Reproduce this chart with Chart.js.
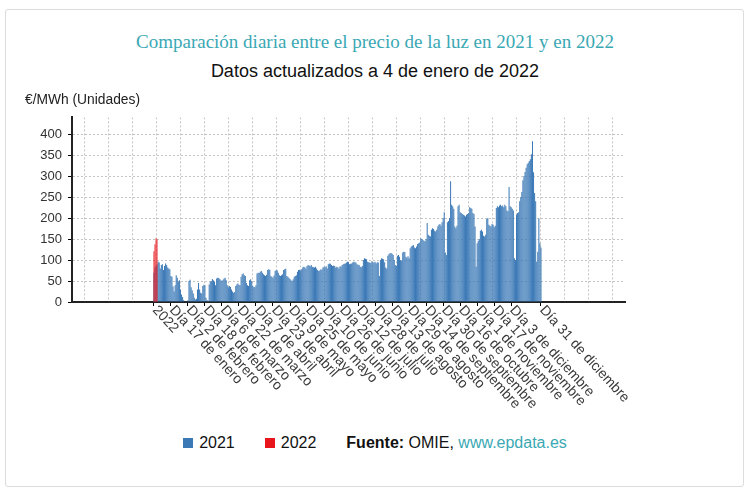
<!DOCTYPE html>
<html lang="es">
<head>
<meta charset="utf-8">
<title>Precio de la luz 2021 y 2022</title>
<script src="https://cdn.jsdelivr.net/npm/chart.js@4.4.0/dist/chart.umd.min.js"></script>
<style>
  body { margin: 0; background: #fff; font-family: "Liberation Sans", Arial, sans-serif; }
  .tarjeta { position: absolute; left: 5px; top: 9px; width: 737px; height: 476px; border: 1px solid #dcdcdc; border-radius: 3px; }
  .titulo { position: absolute; left: 0; top: 30px; width: 750px; line-height: 24px; text-align: center;
    font-family: "Liberation Serif", "Times New Roman", serif; font-size: 19px; color: #3aa8b4; }
  .subtitulo { position: absolute; left: 0; top: 61px; width: 750px; line-height: 20px; text-align: center;
    font-size: 18px; color: #111; }
  #grafico { position: absolute; left: 0; top: 88px; }
  .leyenda { position: absolute; left: 0; top: 433px; width: 750px; line-height: 20px; text-align: center;
    font-size: 16px; color: #111; }
  .leyenda .cuadro { display: inline-block; width: 10px; height: 10px; margin-right: 6px; }
  .leyenda .hueco { display: inline-block; width: 30px; }
  .leyenda a { color: #3aa8b4; text-decoration: none; }
</style>
</head>
<body>
<div class="tarjeta"></div>
<div class="titulo">Comparación diaria entre el precio de la luz en 2021 y en 2022</div>
<div class="subtitulo">Datos actualizados a 4 de enero de 2022</div>
<canvas id="grafico" width="750" height="330"></canvas>
<div class="leyenda" id="leyenda"></div>

<script>
// precio medio diario (€/MWh), dia 0 = 1 de enero
const ene2021 = [70, 82, 86, 90, 96, 94, 80, 88, 90, 76, 86, 92, 88, 82, 80, 78, 62, 60, 37, 25, 40, 64, 58, 48, 52, 30, 18, 12, 5, 2, 1];
const feb2021 = [2, 4, 50, 53, 35, 28, 20, 10, 6, 8, 30, 45, 30, 22, 20, 38, 41, 40, 10, 5, 3, 42, 48, 50, 55, 52, 48, 40];
const mar2021 = [56, 58, 57, 55, 52, 50, 53, 56, 58, 52, 40, 35, 38, 36, 30, 25, 22, 24, 38, 42, 44, 41, 40, 60, 66, 68, 64, 62, 45, 40, 38];
const abr2021 = [52, 54, 50, 38, 36, 35, 40, 68, 70, 69, 72, 74, 70, 66, 64, 62, 65, 76, 78, 77, 62, 60, 58, 63, 74, 76, 75, 70, 64, 62];
const may2021 = [64, 66, 76, 78, 79, 62, 60, 58, 55, 52, 50, 54, 60, 62, 64, 72, 76, 77, 75, 78, 82, 84, 83, 80, 86, 88, 87, 85, 88, 84, 83];
const jun2021 = [82, 84, 80, 76, 74, 75, 78, 77, 82, 84, 83, 85, 80, 90, 92, 91, 88, 86, 87, 86, 82, 84, 83, 80, 85, 84, 88, 90, 91, 92];
const jul2021 = [94, 96, 95, 90, 91, 92, 94, 96, 95, 94, 90, 89, 88, 84, 83, 86, 100, 104, 103, 102, 96, 95, 94, 93, 97, 95, 94, 96, 92, 95, 94];
const ago2021 = [62, 100, 104, 103, 102, 95, 82, 80, 110, 114, 116, 117, 115, 112, 100, 88, 86, 110, 112, 108, 100, 98, 118, 120, 119, 108, 106, 109, 104, 128, 132];
const sep2021 = [134, 136, 130, 128, 132, 138, 140, 142, 152, 150, 148, 146, 145, 150, 188, 160, 158, 156, 172, 176, 174, 170, 168, 172, 180, 184, 186, 182, 190, 200];
const oct2021 = [214, 118, 112, 190, 193, 200, 288, 232, 228, 222, 180, 176, 182, 228, 232, 214, 212, 210, 208, 206, 204, 208, 210, 212, 226, 224, 222, 212, 210, 180, 84];
const nov2021 = [140, 146, 150, 170, 172, 168, 158, 156, 160, 198, 200, 184, 182, 180, 186, 184, 178, 182, 224, 228, 226, 230, 232, 228, 230, 226, 232, 228, 218, 216];
const dic2021 = [274, 228, 226, 222, 218, 104, 100, 208, 212, 214, 240, 250, 262, 290, 300, 310, 320, 328, 332, 336, 340, 352, 383, 309, 260, 240, 96, 120, 199, 140, 130];
const precio2022 = [120, 137, 151, 149];

const precio2021 = [].concat(ene2021, feb2021, mar2021, abr2021, may2021, jun2021,
  jul2021, ago2021, sep2021, oct2021, nov2021, dic2021);

// marcas del eje horizontal (dia del año) y sus textos
const diasEtiqueta = [0, 16, 32, 48, 64, 80, 96, 112, 128, 144, 160, 176, 192, 208, 224, 240, 256, 272, 288, 304, 320, 336, 364];
const etiquetasX = ['2022', 'Día 17 de enero', 'Día 2 de febrero', 'Día 18 de febrero', 'Día 6 de marzo',
  'Día 22 de marzo', 'Día 7 de abril', 'Día 23 de abril', 'Día 9 de mayo', 'Día 25 de mayo', 'Día 10 de junio',
  'Día 26 de junio', 'Día 12 de julio', 'Día 28 de julio', 'Día 13 de agosto', 'Día 29 de agosto',
  'Día 14 de septiembre', 'Día 30 de septiembre', 'Día 16 de octubre', 'Día 1 de noviembre',
  'Día 17 de noviembre', 'Día 3 de diciembre', 'Día 31 de diciembre'];

const series = ['2021', '2022'];
const colores = ['#3a78b6', '#e8161c'];

// leyenda en html, junto a la fuente
const leyenda = document.getElementById('leyenda');
leyenda.innerHTML = series.map((s, i) =>
  `<span class="cuadro" style="background:${colores[i]}"></span>${s}<span class="hueco"></span>`).join('') +
  '<b>Fuente:</b> OMIE, <a>www.epdata.es</a>';

// textos del eje x inclinados hacia abajo a la derecha
const etiquetasInclinadas = {
  id: 'etiquetasInclinadas',
  afterDraw(chart) {
    const escala = chart.scales.x;
    const ctx = chart.ctx;
    ctx.save();
    ctx.font = '14px "Liberation Sans", Arial, sans-serif';
    ctx.fillStyle = '#3a3a3a';
    ctx.textAlign = 'left';
    ctx.textBaseline = 'middle';
    diasEtiqueta.forEach((dia, i) => {
      const px = escala.getPixelForValue(dia);
      ctx.save();
      ctx.translate(px + 1, escala.top + 6);
      ctx.rotate(47.5 * Math.PI / 180);
      ctx.fillText(etiquetasX[i], 0, 0);
      ctx.restore();
    });
    ctx.restore();
  },
};

const ctx = document.getElementById('grafico').getContext('2d');
new Chart(ctx, {
  type: 'bar',
  data: {
    datasets: [{
      label: series[1],
      data: precio2022.map((v, i) => ({ x: i, y: v })),
      backgroundColor: 'rgba(232, 22, 28, 0.5)',
      grouped: false,
      order: 0,
      barPercentage: 1,
      categoryPercentage: 1,
    }, {
      label: series[0],
      data: precio2021.map((v, i) => ({ x: i, y: v })),
      backgroundColor: colores[0],
      grouped: false,
      order: 1,
      barPercentage: 0.95,
      categoryPercentage: 1,
    }],
  },
  options: {
    responsive: false,
    animation: false,
    devicePixelRatio: 1,
    layout: { padding: { top: 4.2, left: 25, right: 125, bottom: 0 } },
    plugins: {
      legend: { display: false },
      tooltip: { enabled: false },
      title: {
        display: true,
        text: '€/MWh (Unidades)',
        align: 'start',
        color: '#222',
        font: { family: '"Liberation Sans", Arial, sans-serif', size: 13.8, weight: 'normal' },
        padding: { top: 0, bottom: 8.6 },
      },
    },
    scales: {
      x: {
        type: 'linear',
        min: -77,
        max: 443,
        offset: false,
        weight: 1,
        grid: { offset: false, drawOnChartArea: false, drawTicks: true, tickLength: 4, tickColor: '#000', color: '#000' },
        border: { display: true, color: '#222', width: 2 },
        ticks: { display: false },
        afterBuildTicks: (s) => {
          s.ticks = diasEtiqueta.map((v) => ({ value: v }));
        },
        afterFit: (s) => { s.height = 116; },
      },
      rejilla: {
        type: 'linear',
        axis: 'x',
        position: 'bottom',
        weight: 10,
        min: 0,
        max: 23,
        offset: false,
        ticks: { display: false, stepSize: 1 },
        grid: { color: '#c4c4c4', drawTicks: false },
        border: { display: false, dash: [2, 2] },
        afterFit: (s) => { s.height = 0; },
      },
      y: {
        min: 0,
        max: 440,
        ticks: {
          stepSize: 50,
          includeBounds: false,
          color: '#333',
          padding: 6,
          font: { family: '"Liberation Sans", Arial, sans-serif', size: 13 },
        },
        grid: { color: '#c4c4c4', tickColor: '#000', tickLength: 4 },
        border: { display: true, color: '#222', width: 2, dash: [2, 2] },
        afterFit: (s) => { s.width = 47; },
      },
    },
  },
  plugins: [etiquetasInclinadas],
});
</script>
</body>
</html>
